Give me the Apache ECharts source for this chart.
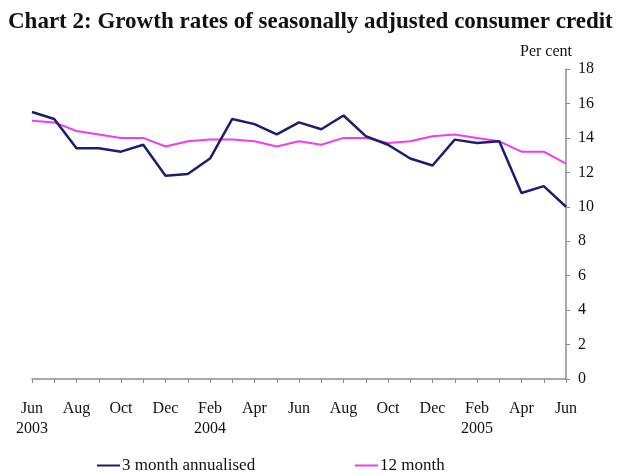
<!DOCTYPE html>
<html>
<head>
<meta charset="utf-8">
<script src="https://cdn.jsdelivr.net/npm/echarts@6/dist/echarts.min.js"></script>
<style>
  html, body { margin: 0; padding: 0; background: #ffffff; }
  #chart { width: 619px; height: 475px; }
</style>
</head>
<body>
<div id="chart"></div>
<script>
// Monthly observations, Jun 2003 – Jun 2005
const months = [
  'Jun 2003', 'Jul 2003', 'Aug 2003', 'Sep 2003', 'Oct 2003', 'Nov 2003', 'Dec 2003',
  'Jan 2004', 'Feb 2004', 'Mar 2004', 'Apr 2004', 'May 2004', 'Jun 2004', 'Jul 2004',
  'Aug 2004', 'Sep 2004', 'Oct 2004', 'Nov 2004', 'Dec 2004', 'Jan 2005', 'Feb 2005',
  'Mar 2005', 'Apr 2005', 'May 2005', 'Jun 2005'
];

// Growth rates, per cent
const threeMonthAnnualised = [
  15.5, 15.1, 13.4, 13.4, 13.2, 13.6, 11.8, 11.9, 12.8, 15.1, 14.8, 14.2, 14.9,
  14.5, 15.3, 14.1, 13.6, 12.8, 12.4, 13.9, 13.7, 13.8, 10.8, 11.2, 10.0
];
const twelveMonth = [
  15.0, 14.9, 14.4, 14.2, 14.0, 14.0, 13.5, 13.8, 13.9, 13.9, 13.8, 13.5, 13.8,
  13.6, 14.0, 14.0, 13.7, 13.8, 14.1, 14.2, 14.0, 13.8, 13.2, 13.2, 12.5
];

// Axis labels: every second month, with the year under June/February where shown
const tickLabels = {
  'Jun 2003': 'Jun\n2003', 'Aug 2003': 'Aug', 'Oct 2003': 'Oct', 'Dec 2003': 'Dec',
  'Feb 2004': 'Feb\n2004', 'Apr 2004': 'Apr', 'Jun 2004': 'Jun', 'Aug 2004': 'Aug',
  'Oct 2004': 'Oct', 'Dec 2004': 'Dec', 'Feb 2005': 'Feb\n2005', 'Apr 2005': 'Apr',
  'Jun 2005': 'Jun'
};

const serif = "'Liberation Serif', 'Times New Roman', serif";
const axisGrey = '#8c8c8c';
const navy = '#1d1d6e';
const magenta = '#f03cf0';
const ink = '#111111';

const chart = echarts.init(document.getElementById('chart'), null, { renderer: 'canvas' });

const legendBase = {
  top: 457,
  padding: 0,
  icon: 'rect', itemWidth: 23, itemHeight: 2, itemGap: 0,
  textStyle: { fontFamily: serif, fontSize: 17, color: ink, padding: [0, 0, 0, -3] }
};

chart.setOption({
  backgroundColor: '#ffffff',
  animation: false,
  title: {
    text: 'Chart 2: Growth rates of seasonally adjusted consumer credit',
    left: 3,
    top: 6,
    textStyle: { fontFamily: serif, fontWeight: 'bold', fontSize: 23, color: ink }
  },
  legend: [
    Object.assign({}, legendBase, { data: ['3 month annualised'], left: 97 }),
    Object.assign({}, legendBase, { data: ['12 month'], left: 355 })
  ],
  grid: { left: 32, right: 53, top: 69, bottom: 96, containLabel: false },
  xAxis: {
    type: 'category',
    data: months,
    boundaryGap: false,
    axisLine: { lineStyle: { color: axisGrey, width: 1.5 } },
    axisTick: { show: true, interval: 0, length: 4, lineStyle: { color: axisGrey } },
    axisLabel: {
      interval: 0,
      margin: 20,
      fontFamily: serif,
      fontSize: 16,
      lineHeight: 20,
      color: ink,
      formatter: (v) => tickLabels[v] || ''
    },
    splitLine: { show: false }
  },
  yAxis: {
    type: 'value',
    position: 'right',
    min: 0,
    max: 18,
    interval: 2,
    name: 'Per cent',
    nameLocation: 'end',
    nameGap: 9,
    nameTextStyle: { fontFamily: serif, fontSize: 16, color: ink, align: 'right', padding: [0, -6, 0, 0] },
    axisLine: { show: true, lineStyle: { color: axisGrey, width: 1.5 } },
    axisTick: { show: true, length: 4, lineStyle: { color: axisGrey } },
    axisLabel: { margin: 12, fontFamily: serif, fontSize: 16, color: ink },
    splitLine: { show: false }
  },
  series: [
    {
      name: '3 month annualised',
      type: 'line',
      data: threeMonthAnnualised,
      symbol: 'none',
      lineStyle: { color: navy, width: 2.5 },
      itemStyle: { color: navy },
      z: 3
    },
    {
      name: '12 month',
      type: 'line',
      data: twelveMonth,
      symbol: 'none',
      lineStyle: { color: magenta, width: 2 },
      itemStyle: { color: magenta },
      z: 2
    }
  ]
});
</script>
</body>
</html>
